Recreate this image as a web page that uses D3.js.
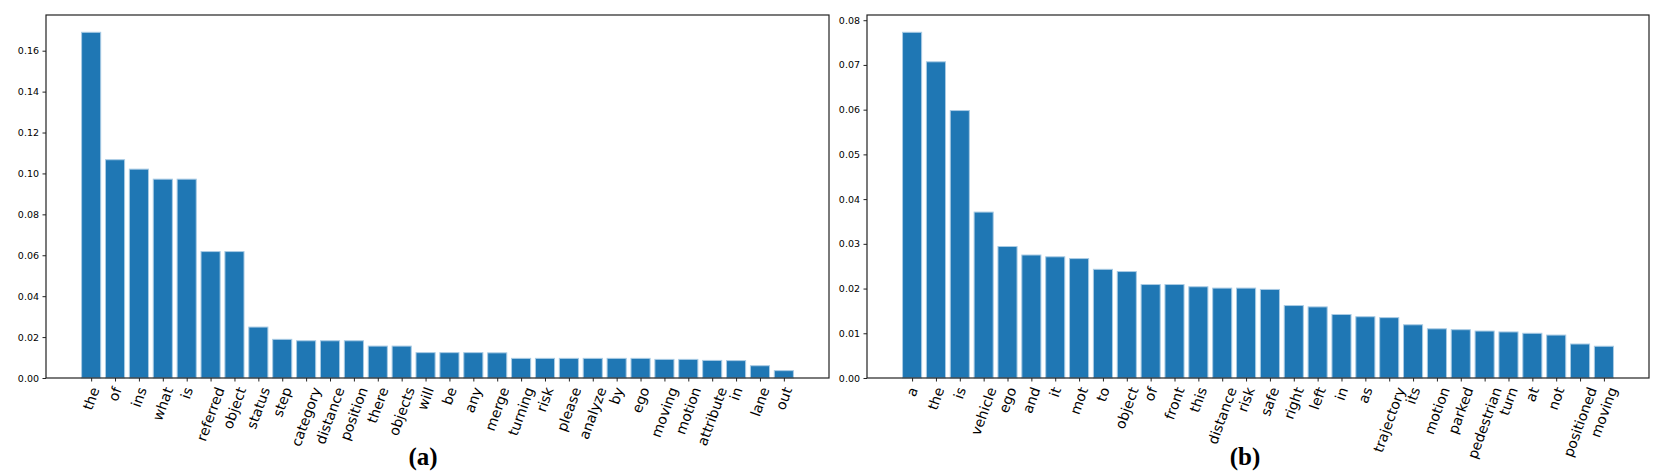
<!DOCTYPE html>
<html>
<head>
<meta charset="utf-8">
<script src="https://cdn.jsdelivr.net/npm/d3@7"></script>
<style>
  body { margin: 0; background: #fff; }
  text { font-family: "DejaVu Sans", sans-serif; }
</style>
</head>
<body>
<svg id="chart" width="1660" height="474"></svg>
<script>
// word frequencies, panel (a)
var leftWords = ["the", "of", "ins", "what", "is", "referred", "object", "status", "step", "category",
  "distance", "position", "there", "objects", "will", "be", "any", "merge", "turning", "risk",
  "please", "analyze", "by", "ego", "moving", "motion", "attribute", "in", "lane", "out"];
var leftValues = [0.169, 0.1067, 0.1021, 0.0972, 0.0972, 0.0618, 0.0618, 0.0249, 0.0189, 0.0182,
  0.0182, 0.0182, 0.0156, 0.0156, 0.0124, 0.0124, 0.0124, 0.0123, 0.0096, 0.0096,
  0.0096, 0.0096, 0.0096, 0.0096, 0.0091, 0.0091, 0.0086, 0.0085, 0.0060, 0.0036];
var leftTicks = [0, 0.02, 0.04, 0.06, 0.08, 0.10, 0.12, 0.14, 0.16];

// panel (b)
var rightWords = ["a", "the", "is", "vehicle", "ego", "and", "it", "mot", "to", "object",
  "of", "front", "this", "distance", "risk", "safe", "right", "left", "in", "as",
  "trajectory", "its", "motion", "parked", "pedestrian", "turn", "at", "not", "positioned", "moving"];
var rightValues = [0.0773, 0.0707, 0.0598, 0.0371, 0.0294, 0.0275, 0.0271, 0.0267, 0.0243, 0.0238,
  0.0209, 0.0209, 0.0204, 0.0201, 0.0201, 0.0198, 0.0162, 0.0159, 0.0142, 0.0137,
  0.0135, 0.0119, 0.0110, 0.0108, 0.0105, 0.0103, 0.0100, 0.0096, 0.0076, 0.0071];
var rightTicks = [0, 0.01, 0.02, 0.03, 0.04, 0.05, 0.06, 0.07, 0.08];

var panelLabels = ["(a)", "(b)"];

var svg = d3.select("#chart");
var plotTop = 15, plotBottom = 378;
var angle = 70;

function drawPanel(words, values, ticks, left, right, label, labelX) {
  var n = values.length;
  var span = n - 1 + 0.8;
  var x = d3.scaleLinear()
      .domain([-0.4 - span * 0.05, n - 0.6 + span * 0.05])
      .range([left, right]);
  var y = d3.scaleLinear()
      .domain([0, d3.max(values) * 1.05])
      .range([plotBottom, plotTop]);
  var bw = x(0.8) - x(0);

  var g = svg.append("g");

  g.selectAll("rect.bar")
      .data(values)
    .enter().append("rect")
      .attr("class", "bar")
      .attr("x", function(d, i) { return x(i - 0.4); })
      .attr("y", function(d) { return y(d); })
      .attr("width", bw)
      .attr("height", function(d) { return y(0) - y(d); })
      .attr("fill", "#1f77b4")
      .attr("stroke", "#a9cbe4")
      .attr("stroke-width", 1);

  // y axis
  var ya = g.append("g")
      .attr("transform", "translate(" + left + ",0)")
      .call(d3.axisLeft(y).tickValues(ticks).tickSize(3.5).tickPadding(3.5).tickFormat(d3.format(".2f")));
  ya.select(".domain").remove();
  ya.selectAll("text").attr("font-size", 9.5).attr("fill", "#000")
      .style("font-family", "DejaVu Sans");
  ya.selectAll("line").attr("stroke", "#222");

  // x axis ticks
  var xa = g.append("g")
      .attr("transform", "translate(0," + plotBottom + ")")
      .call(d3.axisBottom(x).tickValues(d3.range(n)).tickSize(3.5).tickFormat(""));
  xa.select(".domain").remove();
  xa.selectAll("line").attr("stroke", "#222");

  // rotated word labels, bbox centred on tick like matplotlib
  var rad = angle * Math.PI / 180;
  var fs = 14;
  g.selectAll("text.word")
      .data(words)
    .enter().append("text")
      .attr("class", "word")
      .attr("font-size", fs)
      .attr("text-anchor", "middle")
      .attr("dy", "0.35em")
      .text(function(d) { return d; })
      .each(function(d, i) {
        var L = this.getComputedTextLength();
        var H = L * Math.sin(rad) + fs * 0.95 * Math.cos(rad);
        d3.select(this).attr("transform",
          "translate(" + x(i) + "," + (plotBottom + 7.5 + H / 2) + ") rotate(" + (-angle) + ")");
      });

  // frame
  g.append("rect")
      .attr("x", left).attr("y", plotTop)
      .attr("width", right - left).attr("height", plotBottom - plotTop)
      .attr("fill", "none")
      .attr("stroke", "#222")
      .attr("stroke-width", 1.2);

  svg.append("text")
      .attr("x", labelX).attr("y", 465)
      .attr("text-anchor", "middle")
      .style("font-family", "'Liberation Serif', 'Times New Roman', serif")
      .attr("font-weight", "bold")
      .attr("font-size", 25)
      .text(label);
}

drawPanel(leftWords, leftValues, leftTicks, 46, 829, panelLabels[0], 423);
drawPanel(rightWords, rightValues, rightTicks, 867, 1649, panelLabels[1], 1245);
</script>
</body>
</html>
